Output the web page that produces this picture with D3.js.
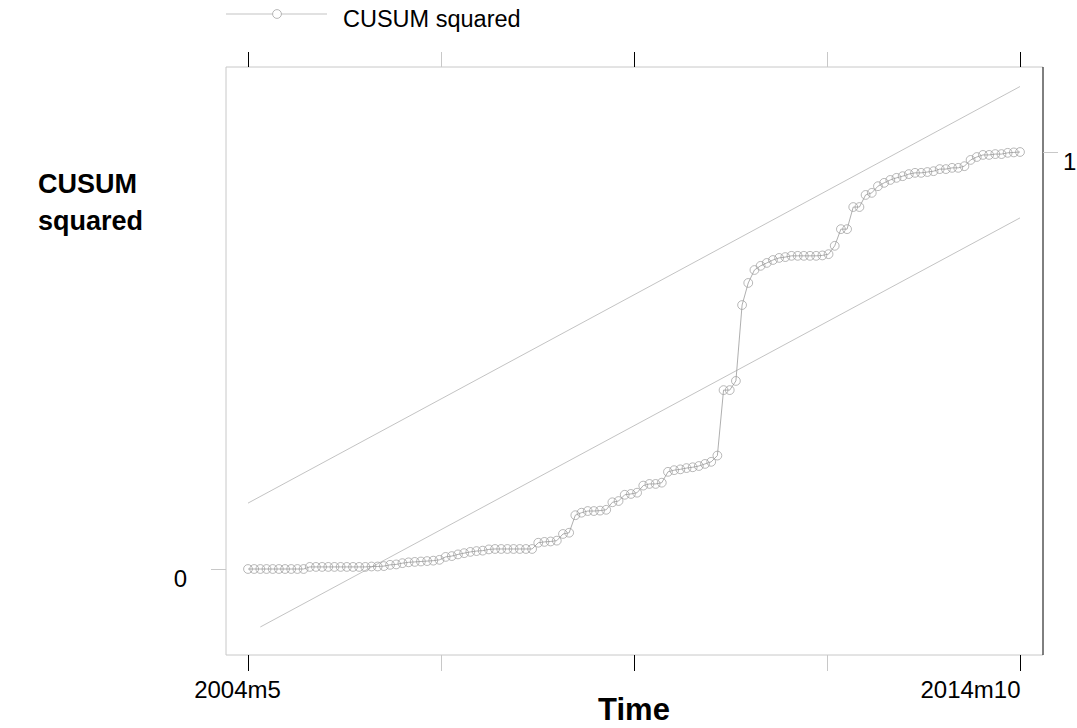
<!DOCTYPE html>
<html lang="en">
<head>
<meta charset="UTF-8">
<title>CUSUM squared</title>
<script src="https://d3js.org/d3.v7.min.js"></script>
<style>
  body { margin: 0; background: #fff; }
  text { font-family: "Liberation Sans", Arial, sans-serif; fill: #000; }
</style>
</head>
<body>
<div id="chart"></div>
<script>
// monthly periods, 2004m5 .. 2014m10
const startYear = 2004, startMonth = 5, nPeriods = 126;
const periods = d3.range(nPeriods).map(i => {
  const m = startMonth - 1 + i;
  return (startYear + Math.floor(m / 12)) + "m" + (m % 12 + 1);
});

// CUSUM squared
const cusumSq = [
  0.000, 0.000, 0.000, 0.000, 0.000, 0.000, 0.000, 0.000, 0.000, 0.000,
  0.005, 0.005, 0.005, 0.005, 0.005, 0.005, 0.005, 0.005, 0.005, 0.005,
  0.006, 0.006, 0.007, 0.010, 0.011, 0.014, 0.016, 0.017, 0.018, 0.019,
  0.020, 0.022, 0.029, 0.031, 0.035, 0.038, 0.041, 0.043, 0.044, 0.047,
  0.048, 0.048, 0.048, 0.048, 0.048, 0.048, 0.048, 0.063, 0.065, 0.066,
  0.068, 0.084, 0.087, 0.129, 0.135, 0.139, 0.139, 0.140, 0.142, 0.160,
  0.163, 0.178, 0.180, 0.183, 0.200, 0.204, 0.204, 0.207, 0.233, 0.237,
  0.239, 0.242, 0.244, 0.247, 0.252, 0.257, 0.272, 0.429, 0.429, 0.451,
  0.633, 0.686, 0.717, 0.727, 0.734, 0.741, 0.746, 0.748, 0.751, 0.751,
  0.751, 0.751, 0.751, 0.752, 0.755, 0.775, 0.815, 0.815, 0.868, 0.868,
  0.897, 0.902, 0.918, 0.926, 0.933, 0.938, 0.942, 0.947, 0.950, 0.950,
  0.952, 0.954, 0.959, 0.959, 0.962, 0.962, 0.966, 0.981, 0.988, 0.993,
  0.993, 0.995, 0.995, 0.998, 0.999, 1.000
];

// 5% bounds (period index, value)
const upperBound = [[0, 0.158], [125, 1.157]];
const lowerBound = [[2, -0.139], [125, 0.842]];

const xTicks = [0, 31.25, 62.5, 93.75, 125];
const xTickLabels = ["2004m5", "", "", "", "2014m10"];
const yTickLeft = [0], yTickRight = [1];
const seriesName = "CUSUM squared";

const w = 1077, h = 728;
const frame = { left: 226, right: 1043, top: 67, bottom: 655 };

const svg = d3.select("#chart").append("svg")
  .attr("width", w)
  .attr("height", h);

const x = d3.scaleLinear().domain([0, nPeriods - 1]).range([248, 1020]);
const y = d3.scaleLinear().domain([0, 1]).range([569, 152]);

const light = "#c8c8c8";

// plot frame
const edges = [
  [frame.left, frame.top, frame.right, frame.top, light],
  [frame.left, frame.bottom, frame.right, frame.bottom, light],
  [frame.left, frame.top, frame.left, frame.bottom, light],
  [frame.right, frame.top, frame.right, frame.bottom, "#000"]
];
edges.forEach(e => {
  svg.append("line")
    .attr("x1", e[0]).attr("y1", e[1]).attr("x2", e[2]).attr("y2", e[3])
    .attr("stroke", e[4]).attr("stroke-width", 1);
});

// x axes, bottom with labels and top ticks only
const tickColor = (d, i) => (i % 2 === 0 ? "#000" : light);

const xb = svg.append("g")
  .attr("transform", `translate(0,${frame.bottom})`)
  .call(d3.axisBottom(x).tickValues(xTicks).tickSize(16).tickPadding(10)
    .tickFormat((d, i) => xTickLabels[i]));
xb.select(".domain").remove();
xb.selectAll(".tick line").attr("stroke", tickColor);
xb.selectAll(".tick text")
  .attr("font-size", 24)
  .attr("dx", (d, i) => (i === 0 ? -11 : -50));

const xt = svg.append("g")
  .attr("transform", `translate(0,${frame.top})`)
  .call(d3.axisTop(x).tickValues(xTicks).tickSize(15).tickFormat(""));
xt.select(".domain").remove();
xt.selectAll(".tick line").attr("stroke", tickColor);

// y axes: 0 on the left, 1 on the right
const yl = svg.append("g")
  .attr("transform", `translate(${frame.left},0)`)
  .call(d3.axisLeft(y).tickValues(yTickLeft).tickSize(15).tickPadding(24)
    .tickFormat(d3.format("d")));
yl.select(".domain").remove();
yl.selectAll(".tick line").attr("stroke", light);
yl.selectAll(".tick text").attr("font-size", 24).attr("dy", "0.72em");

const yr = svg.append("g")
  .attr("transform", `translate(${frame.right},0)`)
  .call(d3.axisRight(y).tickValues(yTickRight).tickSize(15).tickPadding(5)
    .tickFormat(d3.format("d")));
yr.select(".domain").remove();
yr.selectAll(".tick line").attr("stroke", light);
yr.selectAll(".tick text").attr("font-size", 24).attr("dy", "0.72em");

// bounds
const line = d3.line().x(d => x(d[0])).y(d => y(d[1]));
[upperBound, lowerBound].forEach(b => {
  svg.append("path")
    .attr("d", line(b))
    .attr("fill", "none")
    .attr("stroke", "#bcbcbc")
    .attr("stroke-width", 0.9);
});

// CUSUM squared series
const pts = cusumSq.map((v, i) => [i, v]);
svg.append("path")
  .attr("d", line(pts))
  .attr("fill", "none")
  .attr("stroke", "#9a9a9a")
  .attr("stroke-width", 0.8);

svg.selectAll("circle.pt")
  .data(pts)
  .enter()
  .append("circle")
  .attr("class", "pt")
  .attr("cx", d => x(d[0]))
  .attr("cy", d => y(d[1]))
  .attr("r", 4.4)
  .attr("fill", "none")
  .attr("stroke", "#9a9a9a")
  .attr("stroke-width", 0.7);

// legend
svg.append("line")
  .attr("x1", 226).attr("y1", 14).attr("x2", 327).attr("y2", 14)
  .attr("stroke", "#bcbcbc").attr("stroke-width", 0.9);
svg.append("circle")
  .attr("cx", 277).attr("cy", 14).attr("r", 4.4)
  .attr("fill", "#fff").attr("stroke", "#9a9a9a").attr("stroke-width", 0.7);
svg.append("text")
  .attr("x", 343).attr("y", 27)
  .attr("font-size", 23.5)
  .text(seriesName);

// axis titles
const yTitle = svg.append("text")
  .attr("font-size", 27)
  .attr("font-weight", "bold");
yTitle.append("tspan").attr("x", 38).attr("y", 193).text("CUSUM");
yTitle.append("tspan").attr("x", 38).attr("y", 230).text("squared");

svg.append("text")
  .attr("x", 634).attr("y", 720)
  .attr("text-anchor", "middle")
  .attr("font-size", 31)
  .attr("font-weight", "bold")
  .text("Time");
</script>
</body>
</html>
